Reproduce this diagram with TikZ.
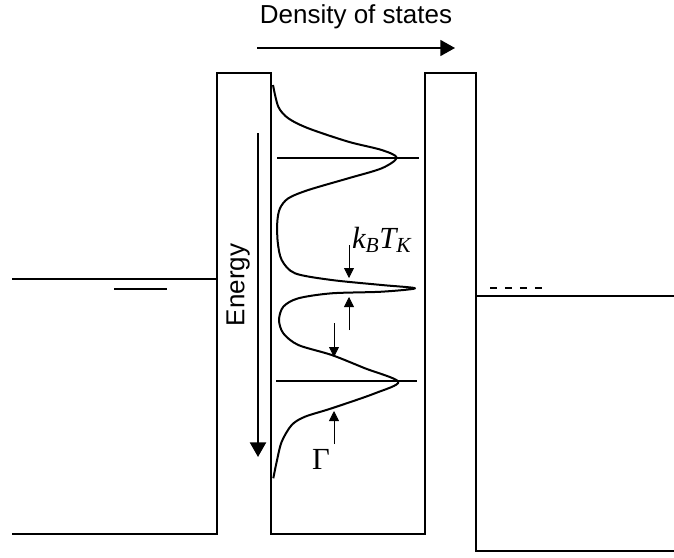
\documentclass[tikz,border=0pt]{standalone}
\usepackage{fontspec}
\setmainfont{Liberation Sans}
\newfontfamily\tmsfont{Liberation Serif}
\usetikzlibrary{arrows.meta}

\begin{document}
\begin{tikzpicture}[x=0.75pt,y=-0.75pt,line width=1.5pt,
    bigtip/.style={-{Triangle[length=11pt,width=12pt]}},
    thintip/.style={line width=0.6pt,-{Triangle[length=7.5pt,width=7.5pt]}},
    lbl/.style={inner sep=0pt,font=\fontsize{19.5}{22}\selectfont},
    mathlbl/.style={inner sep=0pt,font=\fontsize{23}{25}\selectfont\tmsfont}]
  \useasboundingbox (0,0) rectangle (674,557);
  % band profile: leads and the two barriers
  \draw (12,534) -- (217,534) -- (217,73) -- (271,73) -- (271,534)
        -- (425,534) -- (425,73) -- (476,73) -- (476,551) -- (674,551);
  \draw (12,279) -- (217,279);
  \draw (476,296) -- (674,296);
  % lead levels
  \draw (114,289) -- (167,289);
  \draw[dash pattern=on 5.6pt off 5.6pt] (490,288) -- (543,288);
  % dot levels
  \draw (277,158) -- (419,158);
  \draw (276,381) -- (417,381);
  % density of states in the dot
  \draw[line join=round] plot[smooth] coordinates {
    (273,85) (278.3,106.7) (288.3,118.3) (308.3,128.3) (348.3,141.7)
    (381.7,150) (396.7,157.7) (381.7,168.3) (348.3,178.3) (308.3,190)
    (288.3,198.3) (280,208.3) (277.3,221.7) (277.7,241.7) (281.7,260)
    (295,273.3) (331.7,280) (381.7,285) (415,288.3) (381.7,291.7)
    (331.7,293.3) (298.3,298.3) (283.3,306.7) (279,320) (283.3,333.3)
    (298.3,345) (331.7,355) (365,368.3) (398.3,381.7) (375,393.3)
    (331.7,408.3) (305,416.7) (291.7,425) (281.7,441.7) (276.7,461.7)
    (273.3,478.3)};
  % axes
  \node[lbl] (dos) at (356,17) {Density of states};
  \coordinate (dosa) at (257,48);
  \coordinate (dosb) at (455,48);
  \draw[bigtip,line width=1.3pt] (dosa) -- (dosb);
  \node[lbl,rotate=90] (en) at (238,285) {Energy};
  \coordinate (ena) at (258,133);
  \coordinate (enb) at (258,457);
  \draw[bigtip,line width=1.7pt] (ena) -- (enb);
  % widths
  \node[mathlbl,anchor=base west] (kt) at (351,248) {\itshape k\textsubscript{B}T\textsubscript{K}};
  \node[mathlbl] (gam) at (321,459) {Γ};
  \coordinate (kta) at (349,245);
  \coordinate (ktb) at (349,278);
  \coordinate (ktc) at (349,330);
  \coordinate (ktd) at (349,297);
  \coordinate (ga) at (334,323);
  \coordinate (gb) at (334,357);
  \coordinate (gc) at (334,444);
  \coordinate (gd) at (334,411);
  \foreach \p/\q in {kta/ktb,ktc/ktd,ga/gb,gc/gd}{ \draw[thintip] (\p) -- (\q); }
\end{tikzpicture}
\end{document}
